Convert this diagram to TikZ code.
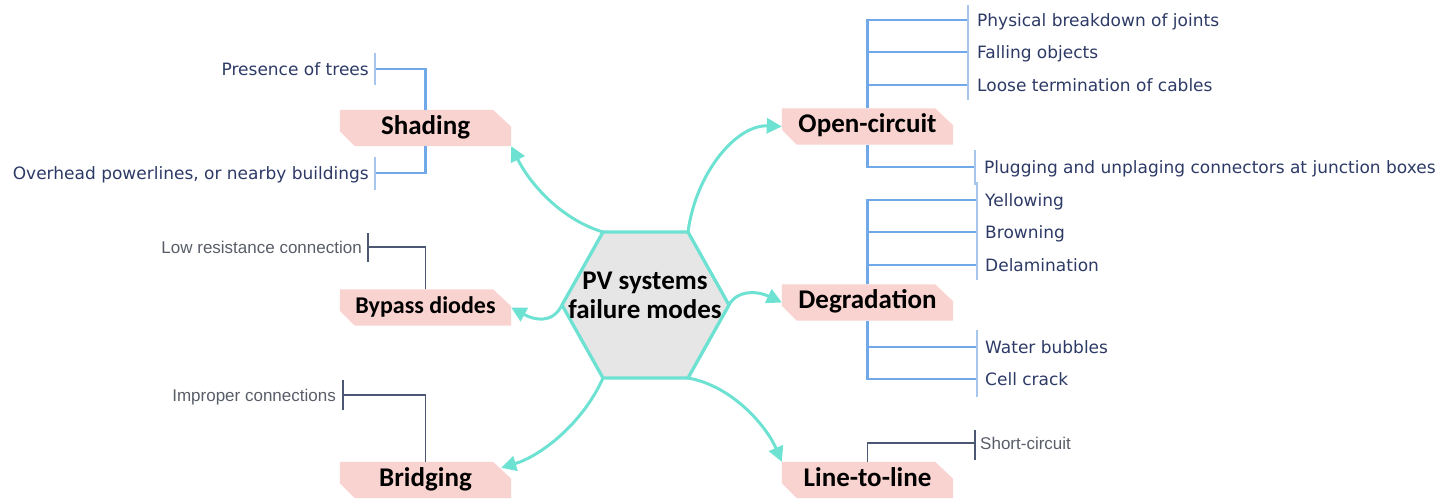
\documentclass[tikz,border=0pt]{standalone}
\usepackage{fontspec}
\setmainfont{Carlito}
\newfontfamily\leaffont{DejaVu Sans}
\newfontfamily\grayfont{Liberation Sans}
\usetikzlibrary{arrows.meta,backgrounds,calc}
\definecolor{turq}{HTML}{6EE2D2}
\definecolor{pinkfill}{HTML}{F9D3CF}
\definecolor{hexfill}{HTML}{E6E6E6}
\definecolor{blueline}{HTML}{70A8E8}
\definecolor{ticklight}{HTML}{A6C6EE}
\definecolor{navytext}{HTML}{2D3A66}
\definecolor{grayline}{HTML}{4C5873}
\definecolor{graytext}{HTML}{585D68}
\newcommand\catshape[1]{\fill[pinkfill] (#1.north west) -- ($(#1.north east)+(-18,0)$) -- ($(#1.north east)+(0,17)$) -- (#1.south east) -- ($(#1.south west)+(15,0)$) -- ($(#1.south west)+(0,-15)$) -- cycle;}
\begin{document}
\begin{tikzpicture}[x=1pt,y=-1pt,
  cat/.style={minimum width=171pt, minimum height=36pt, inner sep=0pt, text height=18pt, text depth=6pt, font=\fontsize{27}{29}\selectfont\bfseries, text=black},
  arr/.style={turq, line width=3pt, -{Triangle[length=15pt,width=15pt]}},
  blueleaf/.style={blueline, line width=2.3pt},
  bluetick/.style={ticklight, line width=1.5pt},
  grayleaf/.style={grayline, line width=1.3pt},
  leafR/.style={anchor=west, inner sep=0pt, text height=12.4pt, text depth=0pt, text=navytext, font=\leaffont\fontsize{17}{20}\selectfont},
  leafL/.style={leafR, anchor=east},
  grayR/.style={anchor=west, inner sep=0pt, text height=12.2pt, text depth=0pt, text=graytext, font=\grayfont\fontsize{17}{20}\selectfont},
  grayL/.style={grayR, anchor=east}
]
\useasboundingbox (0,0) rectangle (1449,499);

% hexagon
\coordinate (h1) at (603,232);
\coordinate (h2) at (688,232);
\coordinate (h3) at (729,305);
\coordinate (h4) at (688,378);
\coordinate (h5) at (603,378);
\coordinate (h6) at (562,305);
\draw[turq, line width=3.3pt, fill=hexfill, line join=round] (h1)--(h2)--(h3)--(h4)--(h5)--(h6)--cycle;
\node[inner sep=0pt, align=center, font=\fontsize{27}{29}\selectfont\bfseries] (hex) at (645,295) {PV systems\\failure modes};

% category nodes
\node[cat] (shade)  at (425.5,128) {Shading};
\node[cat, text height=16pt, text depth=5pt, font=\fontsize{24}{26}\selectfont\bfseries] (bypass) at (425.5,307.5) {Bypass diodes};
\node[cat] (bridge) at (425.5,480) {Bridging};
\node[cat] (open)   at (867.5,126.5) {Open-circuit};
\node[cat] (deg)    at (867.5,302.5) {Degradation};
\node[cat] (line)   at (867.5,480) {Line-to-line};
\begin{scope}[on background layer]
\catshape{shade}\catshape{bypass}\catshape{bridge}\catshape{open}\catshape{deg}\catshape{line}
\end{scope}

% arrows
\coordinate (bridgetip) at ($(bridge.north east)+(-10,6)$);
\draw[arr] (h1) .. controls +(-40,-12) and +(20,40) .. (shade.south east);
\draw[arr] (h2) .. controls +(8,-60) and +(-45,-2) .. (open.west);
\draw[arr] (h6) .. controls +(-10,20) and +(22,12) .. (bypass.east);
\draw[arr] (h3) .. controls +(8,-15) and +(-25,-12) .. (deg.west);
\draw[arr] (h5) .. controls +(-20,45) and +(40,-12) .. (bridgetip);
\draw[arr] (h4) .. controls +(45,8) and +(-15,-35) .. (line.north west);

% Shading leaves
\coordinate (s1) at (375,69);
\coordinate (s2) at (375,173);
\draw[blueleaf] (shade.north) |- (s1);
\draw[blueleaf] (shade.south) |- (s2);
\draw[bluetick] (375,53) -- (375,85);
\draw[bluetick] (375,157) -- (375,190);
\node[leafL] (ts1) at (369,69) {Presence of trees};
\node[leafL] (ts2) at (369,173) {Overhead powerlines, or nearby buildings};

% Bypass leaf
\coordinate (b1) at (368,247);
\draw[grayleaf] (bypass.north) |- (b1);
\draw[grayleaf] (368,233) -- (368,262);
\node[grayL] (tb1) at (362,247) {Low resistance connection};

% Bridging leaf
\coordinate (g1) at (343,395);
\draw[grayleaf] (bridge.north) |- (g1);
\draw[grayleaf] (343,380) -- (343,410);
\node[grayL] (tg1) at (336,395) {Improper connections};

% Open-circuit leaves
\coordinate (o1) at (968,20);
\coordinate (o2) at (968,52);
\coordinate (o3) at (968,85);
\coordinate (o4) at (975,167);
\draw[blueleaf] (open.north) |- (o1);
\draw[blueleaf] (open.north) |- (o2);
\draw[blueleaf] (open.north) |- (o3);
\draw[blueleaf] (open.south) |- (o4);
\draw[bluetick] (968,5) -- (968,100);
\draw[bluetick] (975,150) -- (975,185);
\node[leafR] (to1) at (977,20) {Physical breakdown of joints};
\node[leafR] (to2) at (977,52) {Falling objects};
\node[leafR] (to3) at (977,85) {Loose termination of cables};
\node[leafR] (to4) at (984,167) {Plugging and unplaging connectors at junction boxes};

% Degradation leaves
\coordinate (d1) at (977,200);
\coordinate (d2) at (977,232);
\coordinate (d3) at (977,265);
\coordinate (d4) at (977,347);
\coordinate (d5) at (977,379);
\draw[blueleaf] (deg.north) |- (d1);
\draw[blueleaf] (deg.north) |- (d2);
\draw[blueleaf] (deg.north) |- (d3);
\draw[blueleaf] (deg.south) |- (d4);
\draw[blueleaf] (deg.south) |- (d5);
\draw[bluetick] (977,182) -- (977,280);
\draw[bluetick] (977,330) -- (977,397);
\node[leafR] (td1) at (985,200) {Yellowing};
\node[leafR] (td2) at (985,232) {Browning};
\node[leafR] (td3) at (985,265) {Delamination};
\node[leafR] (td4) at (985,347) {Water bubbles};
\node[leafR] (td5) at (985,379) {Cell crack};

% Line-to-line leaf
\coordinate (l1) at (975,443);
\draw[grayleaf] (line.north) |- (l1);
\draw[grayleaf] (975,430) -- (975,460);
\node[grayR] (tl1) at (980,443) {Short-circuit};
\end{tikzpicture}
\end{document}
